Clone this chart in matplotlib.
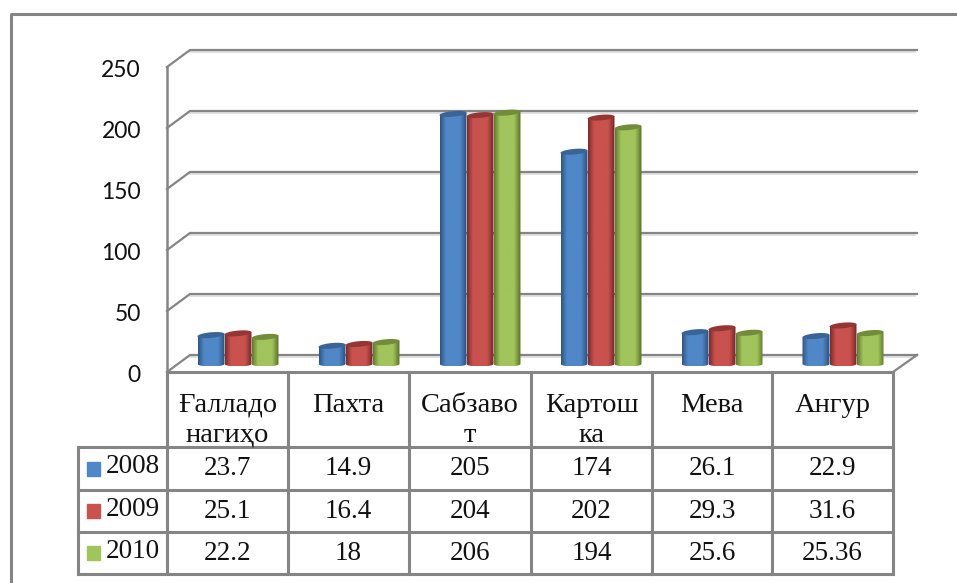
import matplotlib

matplotlib.use("Agg")
import matplotlib.pyplot as plt
import numpy as np
from matplotlib.colors import LinearSegmentedColormap
from matplotlib.patches import PathPatch, Polygon, Rectangle
from matplotlib.path import Path

W, H = 957, 583

categories = ["Ғалладо\nнагиҳо", "Пахта", "Сабзаво\nт", "Картош\nка", "Мева", "Ангур"]
series_names = ["2008", "2009", "2010"]
values_2008 = [23.7, 14.9, 205, 174, 26.1, 22.9]
values_2009 = [25.1, 16.4, 204, 202, 29.3, 31.6]
values_2010 = [22.2, 18, 206, 194, 25.6, 25.36]
y_ticks = [0, 50, 100, 150, 200, 250]

series = [values_2008, values_2009, values_2010]

# main colour, dark edge, lid colour for each series
colors = [
    ("#5087c6", "#2f5583", "#3a6496"),
    ("#c9524f", "#7a2c2a", "#943634"),
    ("#a2c45c", "#5f7a30", "#728c3c"),
]
grey = "#858585"
table_columns = [167, 288, 409, 531, 652, 772, 893]
table_rows = [372, 447, 490, 532, 574]
table_left = 78

plt.rcParams["font.family"] = "Liberation Serif"
fig = plt.figure(figsize=(W / 100, H / 100), dpi=100, facecolor="white")

# pixel layer for frame, walls and table
bg = fig.add_axes([0, 0, 1, 1])
bg.set_xlim(0, W)
bg.set_ylim(H, 0)
bg.axis("off")

# data layer: category i at x=238+121*i, value 0 at y=364, 1.22 px per unit
px_left, px_right = 167, 893
base_y, unit = 364, 1.22
top_y = 40
ax = fig.add_axes(
    [px_left / W, (H - base_y - 12) / H, (px_right - px_left) / W, (base_y + 12 - top_y) / H],
    zorder=2,
)
ax.axis("off")
ax.patch.set_alpha(0)


def value_px(v, shift):
    return shift - v * unit


# frame
bg.plot([10.5, 10.5, W], [583, 13.5, 13.5], color=grey, lw=2.2, solid_capstyle="butt")

# back wall gridlines and side wall
for v in y_ticks:
    back = value_px(v, 355)
    front = value_px(v, 372)
    bg.plot([167, 190, 917], [front, back, back], color=grey, lw=1.6, solid_joinstyle="miter")
    bg.plot([190, 915], [back + 2, back + 2], color="#dddddd", lw=1.2, zorder=0)
    bg.text(141, front + 3.5, str(v), ha="right", va="center", fontsize=16.5, family="Lato", color="#111111")
bg.plot([167, 167], [value_px(250, 372), 372], color=grey, lw=1.8)
bg.plot([893, 917], [372, 355], color=grey, lw=1.6)

# table
for x in table_columns:
    bg.plot([x, x], [372, 574], color=grey, lw=2.2, solid_capstyle="projecting")
bg.plot([table_left, table_left], [447, 574], color=grey, lw=2.2, solid_capstyle="projecting")
for i, y in enumerate(table_rows):
    left = 167 if i == 0 else table_left
    bg.plot([left, 893], [y, y], color=grey, lw=2.2, solid_capstyle="projecting")

for i, label in enumerate(categories):
    xc = (table_columns[i] + table_columns[i + 1]) / 2
    for j, line in enumerate(label.split("\n")):
        bg.text(xc, 405 + j * 30, line, ha="center", va="center", fontsize=20.5, color="#111111")

for r, name in enumerate(series_names):
    yc = (table_rows[r + 1] + table_rows[r + 2]) / 2
    bg.add_patch(Rectangle((87, yc - 7), 13, 14, color=colors[r][0]))
    bg.text(106, yc - 2, name, ha="left", va="center", fontsize=19.5, color="#111111")
    for i, v in enumerate(series[r]):
        xc = (table_columns[i] + table_columns[i + 1]) / 2
        bg.text(xc, yc, str(v), ha="center", va="center", fontsize=19.5, color="#111111")

# cylinders
bar_width = 81 / 3 / 121
foot_h = 2.5 / unit
lid_h = 2.8 / unit
tilt = 1.2 / unit
t = np.linspace(0, 2 * np.pi, 60)
for s, values in enumerate(series):
    main, dark, lid = colors[s]
    cmap = LinearSegmentedColormap.from_list(
        "c", [(0, dark), (0.22, main), (0.75, main), (0.97, dark), (1, dark)], N=64
    )
    grad = np.linspace(0, 1, 64).reshape(1, -1)
    for i, v in enumerate(values):
        xc = i + (s - 1) * bar_width
        x0, x1 = xc - bar_width / 2, xc + bar_width / 2
        z = 3 + s * 0.01
        im = ax.imshow(
            grad, extent=[x0, x1, -foot_h, v + tilt], aspect="auto", cmap=cmap, zorder=z, interpolation="bilinear"
        )
        # outline: body with rounded foot and slanted top edge
        lower = np.linspace(np.pi, 2 * np.pi, 30)
        foot = np.column_stack([xc + bar_width / 2 * np.cos(lower), foot_h * np.sin(lower)])
        outline = np.vstack([foot, [[x1, v + tilt]], [[x0, v - tilt]], foot[:1]])
        clip = PathPatch(Path(outline), transform=ax.transData, fc="none", ec="none")
        ax.add_patch(clip)
        im.set_clip_path(clip)
        cap_x = xc + bar_width / 2 * np.cos(t)
        cap_y = v + lid_h * np.sin(t) + tilt * np.cos(t)
        ax.add_patch(Polygon(np.column_stack([cap_x, cap_y]), closed=True, fc=lid, ec="none", zorder=z + 0.001))

ax.set_xlim((px_left - 238) / 121, (px_right - 238) / 121)
ax.set_ylim(-12 / unit, (base_y - top_y) / unit)

fig.savefig("out.png", dpi=100, facecolor="white")
